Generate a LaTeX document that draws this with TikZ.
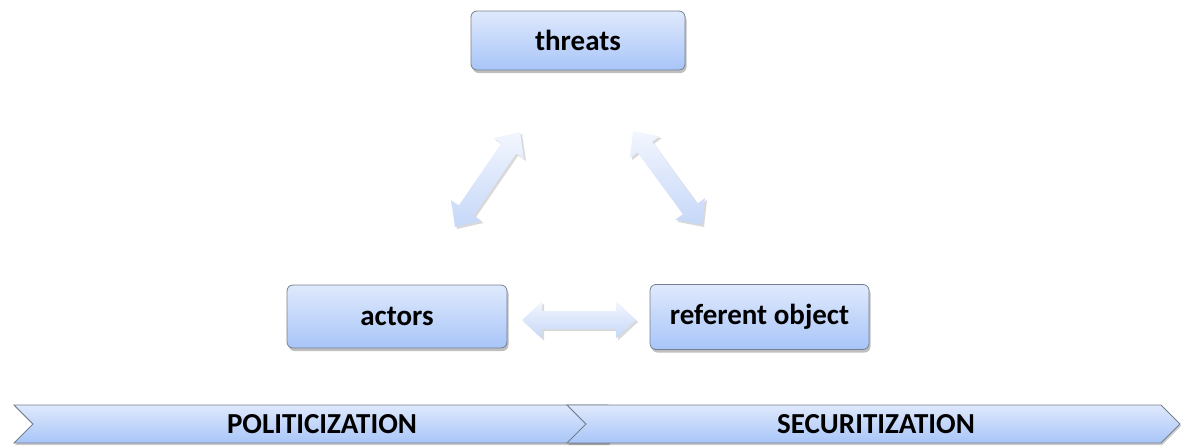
\documentclass[tikz,border=0pt]{standalone}
\usepackage{fontspec}
\setmainfont{Carlito}
\usetikzlibrary{calc,shadows}
\definecolor{boxtop}{HTML}{DFE9FC}
\definecolor{boxbot}{HTML}{A8C5F8}
\definecolor{edgegray}{HTML}{767F8E}
\definecolor{arrtop}{HTML}{F2F6FE}
\definecolor{arrbot}{HTML}{C6D7F8}
\tikzset{
  boxnode/.style={rectangle, rounded corners=6pt, draw=edgegray, line width=0.8pt,
    top color=boxtop, bottom color=boxbot, inner sep=0pt,
    font=\fontsize{29}{34}\selectfont\bfseries, text=black,
    drop shadow={shadow xshift=1.5pt, shadow yshift=-3pt, opacity=0.25, fill=black}},
  chevron/.style={draw=edgegray, line width=0.8pt, top color=boxtop, bottom color=boxbot,
    drop shadow={shadow xshift=1pt, shadow yshift=-2pt, opacity=0.2, fill=black}},
  blockarrow/.style={top color=arrtop, bottom color=arrbot,
    drop shadow={shadow xshift=2pt, shadow yshift=-2pt, opacity=0.15, fill=black}},
  labeltext/.style={font=\fontsize{29}{34}\selectfont\bfseries, text=black, inner sep=0pt}
}
\newcommand\dblblockarrow[2]{%
  \coordinate (#1h) at ($(#1)!20pt!(#2)$);
  \coordinate (#2h) at ($(#2)!20pt!(#1)$);
  \path[blockarrow] (#1) -- ($(#1h)!18.5pt!90:(#2)$) -- ($(#1h)!9pt!90:(#2)$)
    -- ($(#2h)!9pt!-90:(#1)$) -- ($(#2h)!18.5pt!-90:(#1)$) -- (#2)
    -- ($(#2h)!18.5pt!90:(#1)$) -- ($(#2h)!9pt!90:(#1)$)
    -- ($(#1h)!9pt!-90:(#2)$) -- ($(#1h)!18.5pt!-90:(#2)$) -- cycle;}
\begin{document}
\begin{tikzpicture}[x=1pt,y=-1pt]
\useasboundingbox (0,0) rectangle (1186,447);
% boxes
\node[boxnode, minimum width=214pt, minimum height=59pt] (threats) at (578,40.5) {threats};
\node[boxnode, minimum width=220pt, minimum height=63pt] (actors) at (397,316.5) {actors};
\node[boxnode, minimum width=219pt, minimum height=65pt] (referent) at (759.5,317) {referent object};
% arrow end points
\coordinate (la) at (455,227);
\coordinate (lb) at (520,132);
\coordinate (ra) at (633,131);
\coordinate (rb) at (702,225);
\coordinate (ha) at (522,320);
\coordinate (hb) at (636,320);
\dblblockarrow{la}{lb}
\dblblockarrow{ra}{rb}
\dblblockarrow{ha}{hb}
% chevrons
\path[chevron] (14,405) -- (608,405) -- (627,424) -- (608,443) -- (14,443) -- (33,424) -- cycle;
\path[chevron] (567,405) -- (1161,405) -- (1180,424) -- (1161,443) -- (567,443) -- (586,424) -- cycle;
\node[labeltext] (pol) at (322,424) {POLITICIZATION};
\node[labeltext] (sec) at (876,424) {SECURITIZATION};
\end{tikzpicture}
\end{document}
